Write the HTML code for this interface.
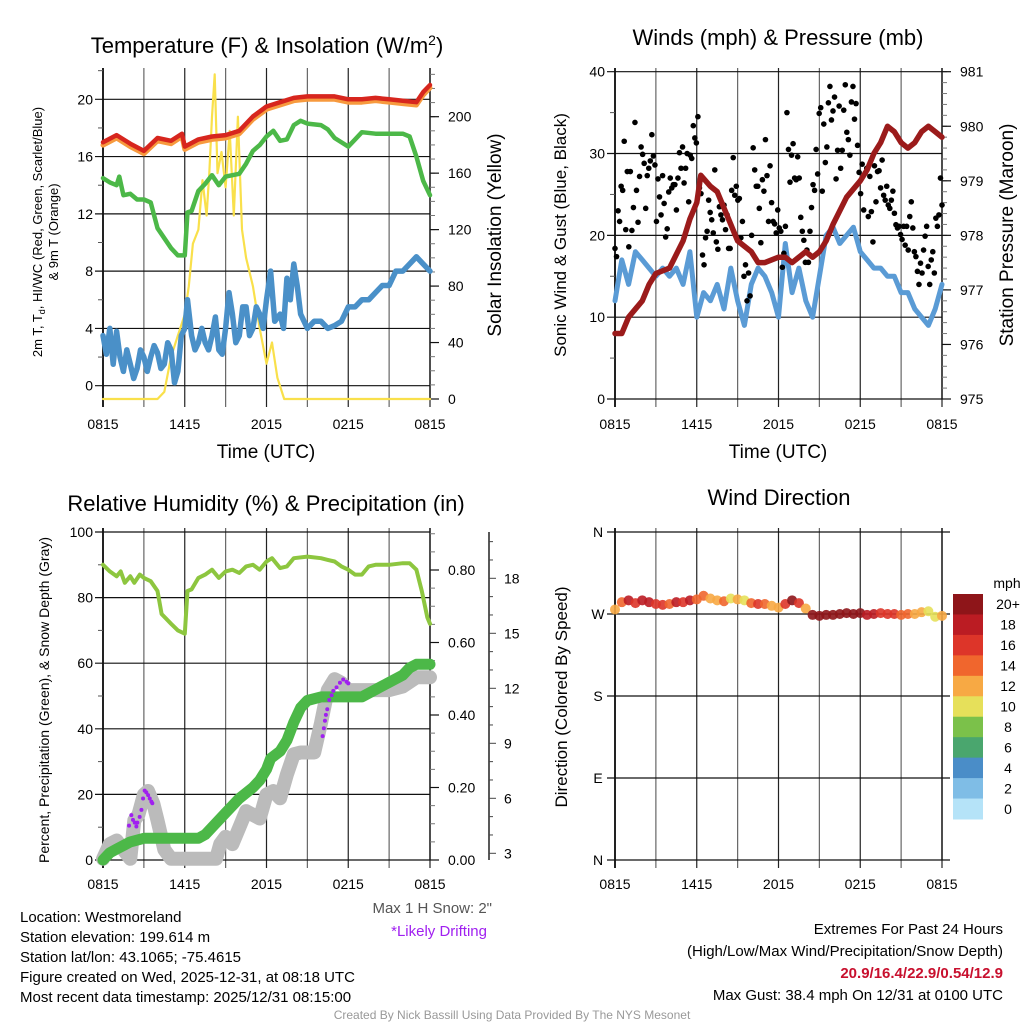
<!DOCTYPE html>
<html><head><meta charset="utf-8"><title>Mesonet Station Meteogram</title>
<style>
html,body{margin:0;padding:0;background:#fff;}
svg{display:block;font-family:"Liberation Sans",Arial,sans-serif;}
</style></head>
<body>
<svg id="chart" width="1024" height="1024" viewBox="0 0 1024 1024" xmlns="http://www.w3.org/2000/svg">
<rect x="0" y="0" width="1024" height="1024" fill="#fff"/>
<!-- titles -->
<text x="267" y="53" font-size="22" text-anchor="middle">Temperature (F) &amp; Insolation (W/m<tspan dy="-8" font-size="14">2</tspan><tspan dy="8">)</tspan></text>
<text x="778" y="45" font-size="22" text-anchor="middle">Winds (mph) &amp; Pressure (mb)</text>
<text x="266" y="511" font-size="22" text-anchor="middle">Relative Humidity (%) &amp; Precipitation (in)</text>
<text x="779" y="505" font-size="22" text-anchor="middle">Wind Direction</text>
<!-- axis titles -->
<text x="266" y="458" font-size="19" text-anchor="middle">Time (UTC)</text>
<text x="778" y="458" font-size="19" text-anchor="middle">Time (UTC)</text>
<text transform="translate(42,232) rotate(-90)" font-size="13" text-anchor="middle">2m T, T<tspan font-size="9" dy="3">d</tspan><tspan dy="-3">, HI/WC (Red, Green, Scarlet/Blue)</tspan></text>
<text transform="translate(58,232) rotate(-90)" font-size="13" text-anchor="middle">&amp; 9m T (Orange)</text>
<text transform="translate(501,235) rotate(-90)" font-size="19" text-anchor="middle">Solar Insolation (Yellow)</text>
<text transform="translate(566,235) rotate(-90)" font-size="17" text-anchor="middle">Sonic Wind &amp; Gust (Blue, Black)</text>
<text transform="translate(1013,235) rotate(-90)" font-size="19" text-anchor="middle">Station Pressure (Maroon)</text>
<text transform="translate(49,700) rotate(-90)" font-size="14" text-anchor="middle">Percent, Precipitation (Green), &amp; Snow Depth (Gray)</text>
<text transform="translate(567,697) rotate(-90)" font-size="17" text-anchor="middle">Direction (Colored By Speed)</text>
<!-- bottom text -->
<g font-size="15">
<text x="20" y="922">Location: Westmoreland</text>
<text x="20" y="942">Station elevation: 199.614 m</text>
<text x="20" y="962">Station lat/lon: 43.1065; -75.4615</text>
<text x="20" y="982">Figure created on Wed, 2025-12-31, at 08:18 UTC</text>
<text x="20" y="1002">Most recent data timestamp: 2025/12/31 08:15:00</text>
</g>
<text x="492" y="913" font-size="15" fill="#555" text-anchor="end">Max 1 H Snow: 2"</text>
<text x="487" y="936" font-size="15" fill="#a020f0" text-anchor="end">*Likely Drifting</text>
<g font-size="15" text-anchor="end">
<text x="1003" y="934">Extremes For Past 24 Hours</text>
<text x="1003" y="956">(High/Low/Max Wind/Precipitation/Snow Depth)</text>
<text x="1003" y="978" fill="#c8102e" font-weight="bold">20.9/16.4/22.9/0.54/12.9</text>
<text x="1003" y="1000">Max Gust: 38.4 mph On 12/31 at 0100 UTC</text>
</g>
<text x="512" y="1019" font-size="12" fill="#999" text-anchor="middle">Created By Nick Bassill Using Data Provided By The NYS Mesonet</text>
<g id="layer"></g>
</svg>
<script>
// ---------- DATA ----------
var xTickLabels = ["0815","1415","2015","0215","0815"];
var tempTicks = [0,4,8,12,16,20];
var solarTicks = [0,40,80,120,160,200];
var windTicks = [0,10,20,30,40];
var pressTicks = [975,976,977,978,979,980,981];
var pctTicks = [0,20,40,60,80,100];
var precipTicks = [0,0.2,0.4,0.6,0.8];
var snowTicks = [3,6,9,12,15,18];
var dirLabels = ["N","E","S","W","N"];
var dirTicks = [0,90,180,270,360];
var speedBins = ["0","2","4","6","8","10","12","14","16","18","20+"];
var speedColors = ["#b5e3f8","#7fbde6","#4a8dc8","#4aa66e","#7bc14a","#e6e05a","#f7a944","#f0662d","#dd3529","#bb1c23","#8e1519"];

var tempTimes = [0,1,2,3,4,5,5.8,6,7,8,9,10,11,12,13,14,15,16,17,18,19,20,21,22,23,23.5,24];
var tempVals = [17.0,17.5,16.9,16.4,17.3,17.1,17.6,16.7,17.2,17.4,17.5,17.8,18.8,19.5,19.8,20.1,20.2,20.2,20.2,20.0,20.0,20.1,20.0,19.9,19.8,20.5,21.0];
var nineTVals = [16.8,17.3,16.7,16.2,17.1,16.9,17.4,16.5,17.0,17.2,17.3,17.6,18.6,19.3,19.6,19.9,20.0,20.0,20.0,19.8,19.8,19.9,19.8,19.7,19.6,20.3,20.8];
var dewTimes = [0,0.5,1,1.2,1.5,2,2.5,3,3.5,4,4.5,5,5.5,6,6.2,6.5,7,7.5,8,8.5,9,10,10.5,11,11.5,12,12.5,13,13.5,14,14.5,15,16,16.5,17,18,18.5,19,20,21,22,22.5,23,23.5,24];
var dewVals = [14.5,14.2,14.0,14.6,13.3,13.4,13.0,13.0,12.8,11.0,10.3,9.6,9.1,9.1,12.1,12.2,13.6,14.1,14.7,14.0,14.6,14.8,15.5,16.4,16.8,17.4,17.8,17.1,17.2,18.2,18.5,18.3,18.2,17.9,17.3,16.7,17.2,17.7,17.6,17.6,17.6,17.4,16.0,14.3,13.3];
var wcTimes = [0,0.25,0.5,0.75,1,1.25,1.5,1.75,2,2.25,2.5,2.75,3,3.25,3.5,3.75,4,4.25,4.5,4.75,5,5.25,5.5,5.75,6,6.2,6.5,6.75,7,7.25,7.5,7.75,8,8.25,8.5,8.75,9,9.25,9.5,9.75,10,10.25,10.5,10.75,11,11.25,11.5,11.75,12,12.3,12.6,13,13.25,13.5,13.75,14,14.25,14.5,15,15.5,16,16.5,17,17.5,18,18.5,19,19.5,20,20.5,21,21.5,22,22.5,23,23.5,24];
var wcVals = [3.5,2.2,4.0,1.5,3.8,2.0,1.0,2.5,1.5,0.5,1.2,2.5,2.0,1.0,2.0,2.8,2.3,1.2,1.5,3.0,2.5,0.2,1.0,3.5,4.0,6.0,3.5,2.5,3.0,4.0,3.0,2.5,3.5,4.8,2.5,2.2,4.0,6.5,5.0,3.0,3.5,5.5,5.5,3.5,4.0,5.5,5.0,4.0,6.0,8.0,4.5,5.0,4.0,7.5,6.0,8.5,7.0,5.0,4.0,4.5,4.5,4.0,4.2,4.5,5.5,5.5,6.0,6.0,6.5,7.0,7.0,8.0,8.0,8.5,9.0,8.5,8.0];
var solarTimes = [0,4,4.5,5,5.5,6,6.3,6.6,7,7.3,7.6,7.8,8,8.2,8.4,8.7,9,9.3,9.6,9.9,10.2,10.5,11,11.5,12,12.4,12.8,13.3,24];
var solarVals = [0,0,5,30,45,60,80,110,120,155,130,160,200,230,160,175,150,190,130,200,120,100,80,50,25,40,15,0,0];

var windTimes = [0,0.5,1,1.5,2,2.5,3,3.5,4,4.5,5,5.5,6,6.5,7,7.5,8,8.5,9,9.5,10,10.5,11,11.5,12,12.5,13,13.5,14,14.5,15,15.5,16,16.5,17,17.5,18,18.5,19,19.5,20,20.5,21,21.5,22,22.5,23,23.5,24];
var windVals = [12,17,14,18,17,16,15,16,15,16,14,18,10,13,12,14,11,16,12,9,14,16,15,13,10,19,13,16,12,10,15,20,21,19,20,21,18,17,16,16,15,15,13,13,11,10,9,11,14];
var pressTimes = [0,0.5,1,2,2.5,3,4,5,5.5,6,6.3,7,7.5,8,8.5,9,10,10.5,11,12,12.5,13,13.5,14,14.5,15,15.5,16,17,18,18.5,19,19.5,20,20.5,21,21.5,22,22.5,23,23.5,24];
var pressVals = [976.2,976.2,976.5,976.8,977.1,977.3,977.4,977.9,978.3,978.6,979.1,978.9,978.8,978.5,978.2,977.9,977.7,977.5,977.5,977.6,977.6,977.5,977.6,977.7,977.6,977.7,977.9,978.2,978.7,979.0,979.2,979.5,979.7,980.0,979.9,979.7,979.6,979.7,979.9,980.0,979.9,979.8];
var gustVals = [18.4,17.4,23,21.7,26,25.5,31.5,20.7,27.8,18.6,27.8,20.6,23.4,33.8,25.5,21.6,27.2,30.8,29.9,28.8,23.3,27.3,28.2,29.1,32.3,29.7,28.6,21.7,26.9,24.7,22.5,27.3,23.9,19.8,20.8,25.3,27,25.8,26.2,26.2,23.1,27,30.1,28.2,30.8,26.4,28.2,30,24.1,29.8,29.4,33.4,31.9,31.3,34.5,25.8,25.1,17.6,16.4,19.7,20.5,24.3,22.8,21.9,20.3,28,19.2,18.3,23.5,22.5,21.9,23.7,20.7,22.5,18.4,18.4,25.5,29.5,24.9,26,24.3,24.5,19.7,21.7,15,16.4,12,15.4,12.6,20,30.7,28,26,26,23.3,19.1,26.8,25.4,31.7,27.3,21.7,28.5,24,21.7,21.4,20.3,23.1,20.9,20.5,16.1,17.8,21.1,35,30.5,26.5,29.8,31.2,27,26.8,29.6,27,22.2,20.5,19.4,16.7,18.2,16.7,20.5,23.4,26.2,25.5,30.5,27.5,34.9,35.6,25.4,33.6,28.9,30.8,36.2,38.2,34.1,35.2,36.9,26.9,30.4,35.8,28.2,30.4,35.3,38.4,32.6,31.7,29.8,36.3,38.2,34.2,36.1,31,27.7,25.1,28.7,23.1,27.6,28.2,22.3,27.2,22.9,19.2,28.5,24.1,27.8,27.9,25.8,29.2,24.9,24.3,26,23.7,23.3,24.3,25.4,22.7,21.3,20.9,21.1,20.1,19.5,21.1,18.8,21.1,18.2,22.3,24.1,20.9,18,17.4,15.6,14,16.6,15.4,18.2,19.9,21.1,16.2,14,17,18,15.4,22.1,21.1,22.5,27,23.7];

var rhTimes = [0,0.5,1,1.3,1.6,2,2.3,2.7,3,3.5,4,4.3,5,5.5,6,6.2,6.5,7,7.5,8,8.5,9,9.5,10,10.5,11,11.5,12,12.4,13,13.5,14,15,16,16.5,17,17.5,18,18.5,19,19.5,20,21,22,22.5,23,23.4,23.8,24];
var rhVals = [90,88,86.5,88,84.5,86.5,84.5,87,86,85,82,75,72,70,69,82,82.5,86,87,88.5,86,88,88.5,87.5,89.5,90,88.5,91,92,89,89.5,92,92.5,92,91.5,91,89.5,88.5,87,87,89.5,90,90,90.5,90.5,88.5,82,74,72];
var precipTimes = [0,0.5,1,2,3,4,5,6,7,7.5,8,9,10,11,11.5,12,12.3,13,13.5,14,14.5,15,16,17,18,19,20,21,22,22.5,23,24];
var precipVals = [0,0.02,0.03,0.05,0.06,0.06,0.06,0.06,0.06,0.07,0.09,0.13,0.17,0.2,0.22,0.25,0.28,0.3,0.33,0.38,0.42,0.44,0.45,0.45,0.45,0.45,0.47,0.49,0.51,0.53,0.54,0.54];
var snowTimes = [0,0.5,1,1.5,2,2.3,2.6,3,3.3,3.7,4,4.5,5,6,7,8,8.3,8.6,9,9.5,10,10.5,11,11.5,12,12.5,13,13.5,14,14.5,15,15.5,16,16.5,17,17.5,18,19,20,21,22,23,24];
var snowVals = [2.7,3.5,3.7,3.2,2.7,4.8,5.1,6.2,6.4,5.7,4.8,3.2,2.7,2.7,2.7,2.7,2.7,3.5,3.9,3.5,4.4,5.3,5.1,4.9,6.2,6.4,6.0,7.3,8.4,8.5,8.5,8.5,10.1,11.9,12.5,12.3,11.9,11.9,11.9,11.9,12.1,12.6,12.6];
var driftTimes = [1.91,2.08,2.2,2.33,2.45,2.52,2.69,2.82,2.94,3.06,3.18,3.31,3.43,3.55,3.62,16.12,16.21,16.29,16.36,16.46,16.6,16.78,16.9,17.14,17.39,17.63,17.88,18.0];
var driftVals = [4.51,5.08,4.82,4.67,4.46,4.67,4.99,5.37,5.99,6.42,6.32,6.17,5.99,5.82,5.73,9.39,9.82,10.23,10.55,10.86,11.36,11.62,11.86,12.05,12.3,12.48,12.36,12.27];

var dirTimes = [0,0.5,1,1.5,2,2.5,3,3.5,4,4.5,5,5.5,6,6.5,7,7.5,8,8.5,9,9.5,10,10.5,11,11.5,12,12.5,13,13.5,14,14.5,15,15.5,16,16.5,17,17.5,18,18.5,19,19.5,20,20.5,21,21.5,22,22.5,23,23.5,24];
var dirVals = [275,283,285,282,285,283,281,280,281,283,283,285,286,290,287,285,284,287,286,285,282,281,281,279,277,281,285,282,276,269,268,269,269,270,271,270,271,269,270,271,270,270,269,270,270,272,273,267,268];
var dirSpeeds = [13,15,18,17,19,18,17,16,15,18,17,19,15,14,13,12,14,11,13,10,15,17,14,12,12,16,20,17,13,20,20,21,20,20,21,20,20,19,18,17,16,17,15,14,13,12,10,11,13];

// ---------- HELPERS ----------
var NS = "http://www.w3.org/2000/svg";
var layer = document.getElementById("layer");
function mk(tag, attrs, parent) {
  var e = document.createElementNS(NS, tag);
  for (var k in attrs) e.setAttribute(k, attrs[k]);
  (parent || layer).appendChild(e);
  return e;
}
function pathD(ts, vs, xf, yf) {
  var d = "";
  for (var i = 0; i < ts.length; i++) d += (i ? "L" : "M") + xf(ts[i]).toFixed(1) + " " + yf(vs[i]).toFixed(1);
  return d;
}
function xScale(x0, x1) { return function (t) { return x0 + (t / 24) * (x1 - x0); }; }
function linScale(v0, p0, v1, p1) { return function (v) { return p0 + (v - v0) * (p1 - p0) / (v1 - v0); }; }

function frame(g, x0, x1, y0, y1, withLabels, labelY) {
  var xf = xScale(x0, x1);
  for (var h = 0; h <= 24; h += 3) {
    var vl = mk("line", {x1: xf(h), x2: xf(h), y1: y0 - 4, y2: y1 + 8, stroke: (h % 6 === 0 ? "#222" : "#666"), "stroke-width": (h === 0 ? 2 : 1.2)}, g);
    
    
  }
  for (var i = 0; i < xTickLabels.length; i++) {
    var tx = mk("text", {x: xf(i * 6), y: labelY, "font-size": 14, "text-anchor": "middle"}, g);
    tx.textContent = xTickLabels[i];
    
    
  }
  var bl = mk("line", {x1: x1, x2: x1, y1: y0 - 4, y2: y1, stroke: "#222", "stroke-width": 1.5}, g);
  
  
  return xf;
}
function hGrid(g, ticks, yf, x0, x1, labels, fmt) {
  for (var i = 0; i < ticks.length; i++) {
    var y = yf(ticks[i]);
    var l = mk("line", {x1: x0 - 8, x2: x1, y1: y, y2: y, stroke: "#111", "stroke-width": 1.2}, g);
    
    
    var t = mk("text", {x: x0 - 10, y: y + 5, "font-size": 14, "text-anchor": "end"}, g);
    t.textContent = labels ? labels[i] : fmt(ticks[i]);
    
    
  }
}
function minorLeft(g, from, to, step, yf, x0) {
  for (var v = from; v <= to + 1e-9; v += step) {
    var m = mk("line", {x1: x0 - 5, x2: x0, y1: yf(v), y2: yf(v), stroke: "#555", "stroke-width": 1}, g);
    
    
  }
}
function rightAxis(g, ticks, minorStep, vmin, vmax, yf, x, fmt) {
  for (var v = vmin; v <= vmax + 1e-9; v += minorStep) {
    var m = mk("line", {x1: x, x2: x + 5, y1: yf(v), y2: yf(v), stroke: "#777", "stroke-width": 1}, g);
    
    
  }
  for (var i = 0; i < ticks.length; i++) {
    var y = yf(ticks[i]);
    var l = mk("line", {x1: x, x2: x + 9, y1: y, y2: y, stroke: "#111", "stroke-width": 1.2}, g);
    
    
    var t = mk("text", {x: x + 18, y: y + 5, "font-size": 14}, g);
    t.textContent = fmt(ticks[i]);
    
    
  }
}
function series(g, ts, vs, xf, yf, color, w, name) {
  var p = mk("path", {d: pathD(ts, vs, xf, yf), fill: "none", stroke: color, "stroke-width": w, "stroke-linejoin": "round", "stroke-linecap": "round"}, g);
  
  
  return p;
}
function speedColor(s) { var i = Math.min(10, Math.max(0, Math.floor(s / 2))); return speedColors[i]; }

// ---------- PANEL 1: TEMPERATURE ----------
var g1 = mk("g", {});


var yT = linScale(0, 385.7, 20, 99.3);
var yS = linScale(0, 399, 200, 116.7);
var x1f = frame(g1, 103, 430, 72, 399, true, 429);
hGrid(g1, tempTicks, yT, 103, 430, null, function (v) { return v; });
minorLeft(g1, 2, 22, 4, yT, 103);
rightAxis(g1, solarTicks, 10, 0, 230, yS, 430, function (v) { return v; });
series(g1, solarTimes, solarVals, x1f, yS, "#f9e04b", 2.2, "solar-insolation-line");
series(g1, wcTimes, wcVals, x1f, yT, "#4a90c8", 5.5, "wind-chill-line");
series(g1, dewTimes, dewVals, x1f, yT, "#4cb848", 4.5, "dewpoint-line");
series(g1, tempTimes, nineTVals, x1f, yT, "#f79a3e", 5, "nine-meter-temp-line");
series(g1, tempTimes, tempVals, x1f, yT, "#d7261e", 4.5, "two-meter-temp-line");

// ---------- PANEL 2: WINDS ----------
var g2 = mk("g", {});


var yW = linScale(0, 399, 40, 71.7);
var yP = linScale(975, 399, 981, 71.7);
var x2f = frame(g2, 615, 942, 72, 399, true, 429);
hGrid(g2, windTicks, yW, 615, 942, null, function (v) { return v; });
minorLeft(g2, 5, 35, 10, yW, 615);
rightAxis(g2, pressTicks, 0.2, 975, 981, yP, 942, function (v) { return v; });
series(g2, windTimes, windVals, x2f, yW, "#5a9bd5", 5, "sonic-wind-line");
for (var i = 0; i < gustVals.length; i++) {
  var gt = i * 24 / (gustVals.length - 1);
  var c = mk("circle", {cx: x2f(gt), cy: yW(gustVals[i]), r: 2.8, fill: "#000"}, g2);
  
  
}
series(g2, pressTimes, pressVals, x2f, yP, "#9b1b1b", 5.5, "station-pressure-line");

// ---------- PANEL 3: HUMIDITY ----------
var g3 = mk("g", {});


var yPct = linScale(0, 860, 100, 532);
var yPr = linScale(0, 860, 0.8, 570);
var ySn = linScale(3, 853.3, 18, 578.3);
var x3f = frame(g3, 103, 430, 532, 860, true, 889);
hGrid(g3, pctTicks, yPct, 103, 430, null, function (v) { return v; });
minorLeft(g3, 10, 90, 20, yPct, 103);
rightAxis(g3, precipTicks, 0.05, 0, 0.9, yPr, 430, function (v) { return v.toFixed(2); });
var sl = mk("line", {x1: 489, x2: 489, y1: 532, y2: 860, stroke: "#222", "stroke-width": 1.5}, g3);


for (var v = 3; v <= 20; v += 1) {
  var st = mk("line", {x1: 489, x2: (v % 3 === 0 ? 496 : 493), y1: ySn(v), y2: ySn(v), stroke: "#444", "stroke-width": 1}, g3);
  
  
}
for (var i = 0; i < snowTicks.length; i++) {
  var sx = mk("text", {x: 504, y: ySn(snowTicks[i]) + 5, "font-size": 14}, g3);
  sx.textContent = snowTicks[i];
  
  
}
series(g3, snowTimes, snowVals, x3f, ySn, "#bbbbbb", 14, "snow-depth-line");
series(g3, precipTimes, precipVals, x3f, yPr, "#4cb848", 11, "precipitation-line");
series(g3, rhTimes, rhVals, x3f, yPct, "#8dc63f", 4, "relative-humidity-line");
for (var i = 0; i < driftTimes.length; i++) {
  var dd = mk("circle", {cx: x3f(driftTimes[i]), cy: ySn(driftVals[i]), r: 2, fill: "#a020f0"}, g3);
  
  
}

// ---------- PANEL 4: WIND DIRECTION ----------
var g4 = mk("g", {});


var yD = linScale(0, 860, 360, 532);
var x4f = frame(g4, 615, 942, 532, 860, true, 889);
for (var i = 0; i < dirTicks.length; i++) {
  var y = yD(dirTicks[i]);
  var dl = mk("line", {x1: 607, x2: 950, y1: y, y2: y, stroke: "#111", "stroke-width": 1.2}, g4);
  
  
  var dt = mk("text", {x: 598, y: y + 5, "font-size": 14, "text-anchor": "middle"}, g4);
  dt.textContent = dirLabels[i];
  
  
}
for (var i = 0; i < dirTimes.length; i++) {
  var dc = mk("circle", {cx: x4f(dirTimes[i]), cy: yD(dirVals[i]), r: 5, fill: speedColor(dirSpeeds[i]), "fill-opacity": 0.9}, g4);
  
  
}
// colorbar
var cbTop = 594, cbH = 225 / speedBins.length;
var mph = mk("text", {x: 1007, y: 588, "font-size": 14, "text-anchor": "middle"}, g4);
mph.textContent = "mph";


for (var i = 0; i < speedBins.length; i++) {
  var k = speedBins.length - 1 - i;
  var r = mk("rect", {x: 953, y: cbTop + i * cbH, width: 30, height: cbH + 0.5, fill: speedColors[k]}, g4);
  
  
  var lt = mk("text", {x: 1008, y: cbTop + i * cbH + cbH / 2 + 5, "font-size": 14, "text-anchor": "middle"}, g4);
  lt.textContent = speedBins[k];
  
  
}
</script>
</body></html>
